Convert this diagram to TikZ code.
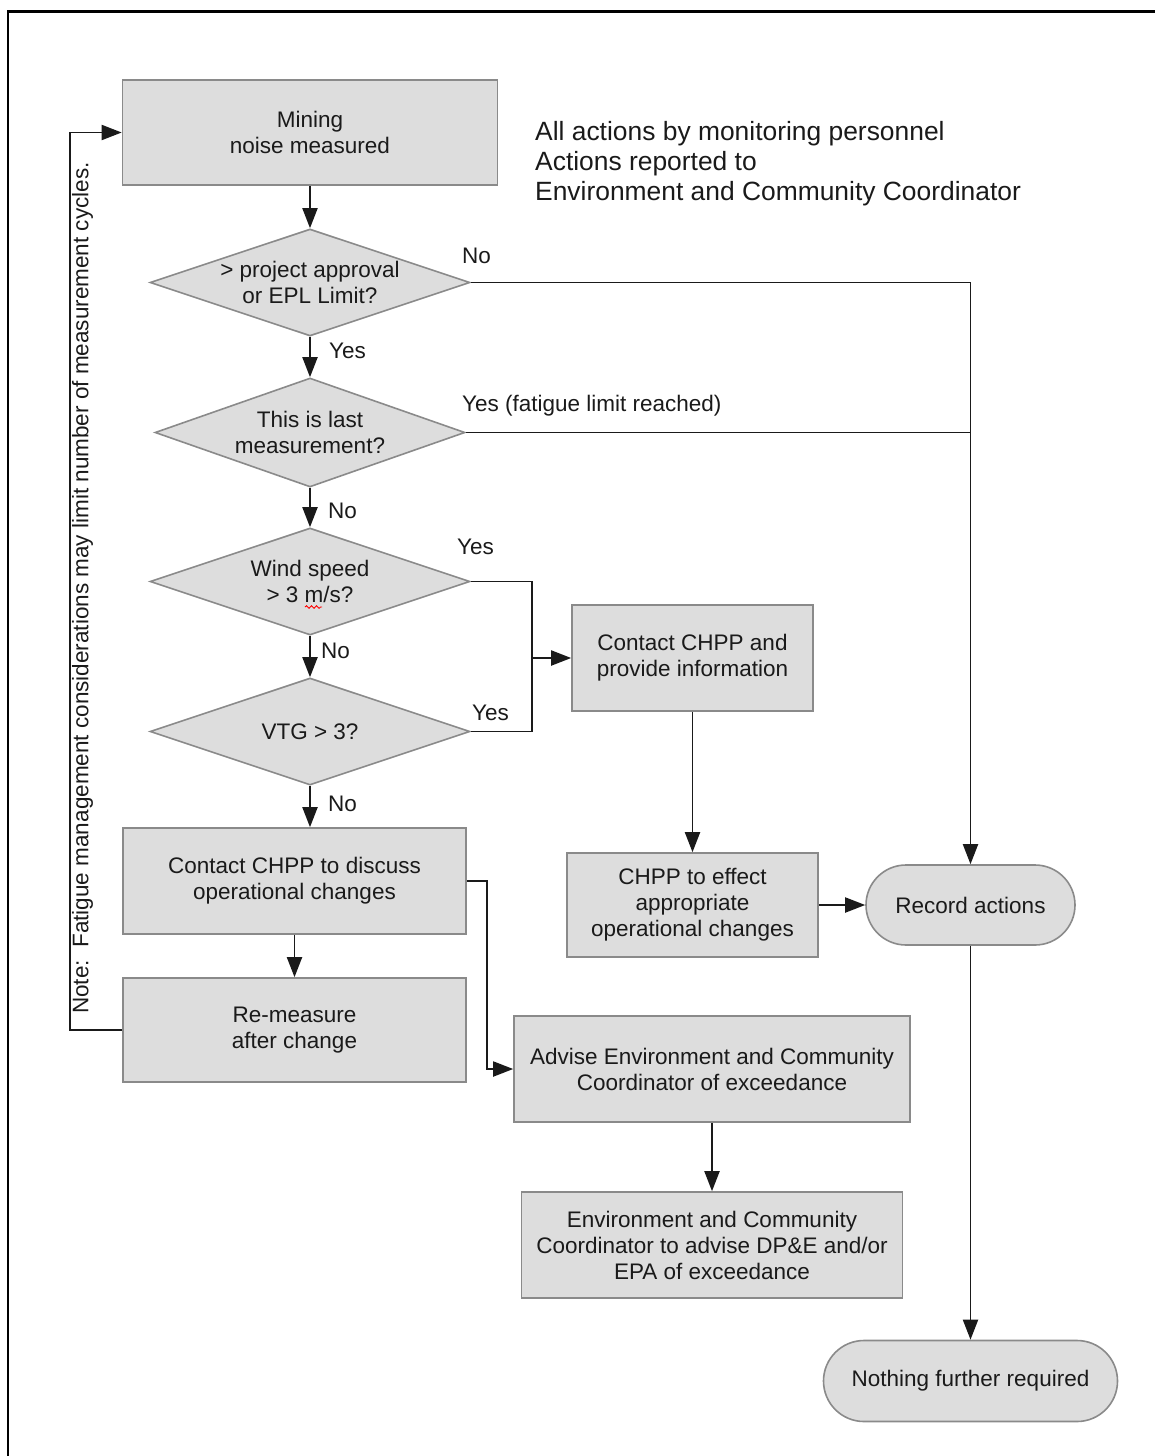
\documentclass[tikz,border=0pt]{standalone}
\usepackage{fontspec}
\setmainfont{Liberation Sans}
\usetikzlibrary{shapes.geometric,arrows.meta,decorations.pathmorphing}
\definecolor{boxfill}{HTML}{DDDDDD}
\definecolor{boxline}{HTML}{8A8A8A}
\definecolor{ink}{HTML}{1A1A1A}
\begin{document}
\begin{tikzpicture}[x=1pt,y=-1pt,
  txt/.style={font=\fontsize{22.5}{26}\selectfont, align=center, inner sep=0pt, text=ink},
  box/.style={txt, rectangle, draw=boxline, fill=boxfill, line width=1.6pt},
  dia/.style={diamond, draw=boxline, fill=boxfill, line width=1.6pt, inner sep=0pt, minimum width=320, minimum height=107},
  term/.style={txt, rectangle, rounded corners=40, draw=boxline, fill=boxfill, line width=1.6pt},
  lbl/.style={txt, anchor=west},
  conn/.style={draw=ink, line width=1.9pt},
  arr/.style={conn, -{Triangle[length=20pt,width=15pt]}}
]
\useasboundingbox (0,0) rectangle (1154,1456);
% outer frame (cut on right and bottom)
\draw[line width=2.4pt, black] (8,1460) -- (8,11.5) -- (1160,11.5);

% header
\node[txt, font=\fontsize{26.4}{30}\selectfont, align=left, anchor=west] (hdr) at (535,164)
  {All actions by monitoring personnel\\Actions reported to\\Environment and Community Coordinator};

% nodes
\node[box, minimum width=375, minimum height=105] (a) at (310,132.5) {Mining\\noise measured};
\node[dia, label={[txt]center:{> project approval\\or EPL Limit?}}] (d1) at (310,282.5) {};
\node[dia, minimum width=310, minimum height=109, label={[txt]center:{This is last\\measurement?}}] (d2) at (310,432.5) {};
\node[dia, label={[txt]center:{Wind speed\\> 3 m/s?}}] (d3) at (310,581.5) {};
\node[dia, label={[txt]center:{VTG > 3?}}] (d4) at (310,731.5) {};
\node[box, minimum width=343, minimum height=106] (e) at (294.5,881) {Contact CHPP to discuss\\operational changes};
\node[box, minimum width=343, minimum height=104] (r) at (294.5,1030) {Re-measure\\after change};
\node[box, minimum width=241, minimum height=106] (c) at (692.5,658) {Contact CHPP and\\provide information};
\node[box, minimum width=251, minimum height=104] (f) at (692.5,905) {CHPP to effect\\appropriate\\operational changes};
\node[term, minimum width=209, minimum height=80] (rec) at (970.5,905) {Record actions};
\node[term, minimum width=294, minimum height=81, rounded corners=40.5] (nfr) at (970.5,1381) {Nothing further required};
\node[box, minimum width=396, minimum height=106] (g) at (712,1069) {Advise Environment and Community\\Coordinator of exceedance};
\node[box, minimum width=381, minimum height=106] (h) at (712,1245) {Environment and Community\\Coordinator to advise DP\&E and/or\\EPA of exceedance};

% spell-check squiggle under "m"
\draw[red, line width=0.9pt, decorate, decoration={snake, amplitude=1.3pt, segment length=5pt}] (305,607) -- (322,607);

% junction coordinates
\coordinate (j1) at (532,658);
\coordinate (j2) at (487,881);
\coordinate (j3) at (70,1030);

% connectors
\draw[arr] (a) -- (d1);
\draw[arr] (d1) -- (d2);
\draw[arr] (d2) -- (d3);
\draw[arr] (d3) -- (d4);
\draw[arr] (d4.south) -- (d4.south |- e.north);
\draw[arr] (d1.east) -| (rec.north);
\draw[conn] (d2.east) -- (d2.east -| rec.north);
\draw[conn] (d3.east) -| (j1);
\draw[conn] (d4.east) -| (j1);
\draw[arr] (j1) -- (c.west);
\draw[arr] (c) -- (f);
\draw[arr] (f.east) -- (rec.west);
\draw[arr] (rec) -- (nfr);
\draw[arr] (e) -- (r);
\draw[arr] (e.east) -- (j2) |- (g.west);
\draw[arr] (g) -- (h);
\draw[arr] (r.west) -- (j3) |- (a.west);

% connector labels
\node[lbl] (l1) at (462,256) {No};
\node[lbl] (l2) at (329,351) {Yes};
\node[lbl] (l3) at (462,406) {Yes (fatigue limit reached)};
\node[lbl] (l4) at (328,511) {No};
\node[lbl] (l5) at (457,547) {Yes};
\node[lbl] (l6) at (321,651) {No};
\node[lbl] (l7) at (472,713) {Yes};
\node[lbl] (l8) at (328,804) {No};

% rotated note
\node[txt, rotate=90] (note) at (82.5,588)
  {Note:\ \ Fatigue management considerations may limit number of measurement cycles.};
\end{tikzpicture}
\end{document}
